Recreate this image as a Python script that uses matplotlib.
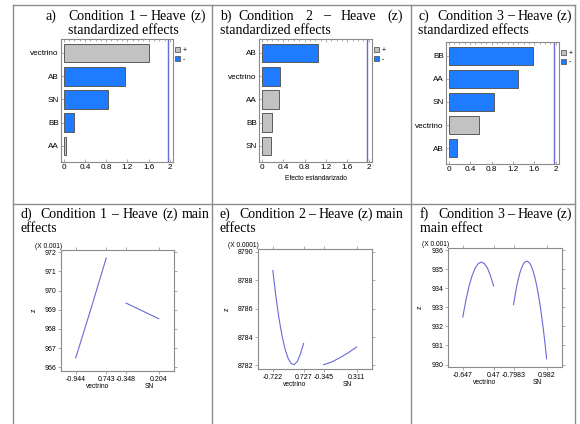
import numpy as np
import matplotlib
matplotlib.use("Agg")
import matplotlib.pyplot as plt
from matplotlib.patches import Patch
from matplotlib.lines import Line2D

# =========================================
# data
# =========================================
# pareto charts of standardized effects (bar length, sign of effect)
a_labels = ["vectrino", "AB", "SN", "BB", "AA"]
a_values = [1.61, 1.16, 0.83, 0.20, 0.04]
a_signs = ["+", "-", "-", "-", "+"]

b_labels = ["AB", "vectrino", "AA", "BB", "SN"]
b_values = [1.06, 0.34, 0.33, 0.20, 0.17]
b_signs = ["-", "-", "+", "+", "+"]

c_labels = ["BB", "AA", "SN", "vectrino", "AB"]
c_values = [1.57, 1.29, 0.84, 0.56, 0.16]
c_signs = ["-", "-", "-", "+", "-"]

critical = 1.96
bar_ticks = [0, 0.4, 0.8, 1.2, 1.6, 2]

# main effects plots: factor levels (low, high) and curve points
factors = ["vectrino", "SN"]

d_levels = [(-0.944, 0.743), (-0.348, 0.204)]
d_vec_x = [-0.944, -0.1, 0.743]
d_vec_z = [966.48, 969.05, 971.70]
d_sn_x = [-0.348, 0.204]
d_sn_z = [969.35, 968.53]
d_yticks = [966, 967, 968, 969, 970, 971, 972]

e_levels = [(-0.722, 0.727), (-0.345, 0.311)]
e_vec_x = [-0.722, -0.577, -0.432, -0.287, -0.142, 0.003, 0.147, 0.292, 0.437, 0.582, 0.727]
e_vec_z = [8788.69, 8786.86, 8785.32, 8784.08, 8783.13, 8782.48, 8782.12, 8782.06,
           8782.30, 8782.83, 8783.55]
e_sn_x = [-0.345, -0.181, -0.017, 0.147, 0.311]
e_sn_z = [8782.05, 8782.25, 8782.55, 8782.90, 8783.30]
e_yticks = [8782, 8784, 8786, 8788, 8790]

f_levels = [(-0.647, 0.47), (-0.7983, 0.982)]
f_vec_x = [-0.647, -0.535, -0.424, -0.312, -0.200, -0.089, 0.023, 0.135, 0.247, 0.358, 0.47]
f_vec_z = [932.50, 933.38, 934.10, 934.66, 935.06, 935.30, 935.38, 935.30, 935.06,
           934.66, 934.13]
f_sn_x = [-0.798, -0.709, -0.620, -0.531, -0.442, -0.353, -0.264, -0.175, -0.086, 0.003,
          0.092, 0.181, 0.270, 0.359, 0.448, 0.537, 0.626, 0.715, 0.804, 0.893, 0.982]
f_sn_z = [933.15, 933.68, 934.15, 934.54, 934.86, 935.11, 935.29, 935.39, 935.43, 935.39,
          935.29, 935.11, 934.86, 934.54, 934.15, 933.68, 933.15, 932.54, 931.87, 931.12,
          930.30]
f_yticks = [930, 931, 932, 933, 934, 935, 936]

# captions
cap_a = ("a)", ["Condition", "1", "–", "Heave", "(z)"], "standardized effects")
cap_b = ("b)", ["Condition", "2", "–", "Heave", "(z)"], "standardized effects")
cap_c = ("c)", ["Condition", "3", "–", "Heave", "(z)"], "standardized effects")
cap_d = ("d)", ["Condition", "1", "–", "Heave", "(z)", "main"], "effects")
cap_e = ("e)", ["Condition", "2", "–", "Heave", "(z)", "main"], "effects")
cap_f = ("f)", ["Condition", "3", "–", "Heave", "(z)"], "main effect")

# =========================================
# styles
# =========================================
W, H = 580, 424
GRAY = "#c2c2c2"
BLUE = "#1f7bff"
EDGE = "#5a5a5a"
LINE = "#6a6ad4"
FRAME = "#8a8a8a"
SANS = "Liberation Sans"
SERIF = "Liberation Serif"
SLOTS = [(0.13, 0.40), (0.575, 0.865)]
NAME_X = [0.325, 0.78]

fig = plt.figure(figsize=(W / 100, H / 100), dpi=100)
renderer = fig.canvas.get_renderer()


def px_axes(l, t, r, b):
    return fig.add_axes([l / W, 1 - b / H, (r - l) / W, (b - t) / H])


def frame(ax):
    for s in ax.spines.values():
        s.set_color(FRAME)
        s.set_linewidth(0.8)


# table borders
for x in [13, 212, 411, 575]:
    fig.add_artist(Line2D([x / W, x / W], [0, 1 - 5 / H], color="#8c8c8c", lw=1))
for y in [5, 204]:
    fig.add_artist(Line2D([13 / W, 575 / W], [1 - y / H, 1 - y / H], color="#8c8c8c", lw=1))


def caption(cap, xl, xt, x_end, y1, size=10.0):
    label, words, second = cap
    fig.text(xl / W, 1 - y1 / H, label, fontsize=size, family=SERIF, va="baseline")
    texts = [fig.text(0, 0, w, fontsize=size, family=SERIF, va="baseline") for w in words]
    widths = [t.get_window_extent(renderer).width for t in texts]
    gap = (x_end - xt - sum(widths)) / (len(words) - 1)
    x = xt
    for t, w in zip(texts, widths):
        t.set_position((x / W, 1 - y1 / H))
        x += w + gap
    x2 = xt if label == "a)" else xl
    fig.text(x2 / W, 1 - (y1 + 14) / H, second, fontsize=size, family=SERIF, va="baseline")


caption(cap_a, 45, 68.5, 206, 19.5)
caption(cap_b, 220, 238.5, 403, 19.5)
caption(cap_c, 418.5, 437.5, 572, 19.5)
caption(cap_d, 20.5, 40, 210, 217.7)
caption(cap_e, 220, 239.5, 404, 217.7)
caption(cap_f, 419.5, 438.5, 572, 217.7)


# =========================================
# pareto charts
# =========================================
def pareto(ax, labels, values, signs, xlabel=None):
    y = np.arange(len(labels))
    colors = [GRAY if s == "+" else BLUE for s in signs]
    ax.barh(y, values, height=0.8, color=colors, edgecolor=EDGE, linewidth=0.7)
    ax.axvline(critical, color=LINE, lw=1)
    ax.set_xlim(-0.05, 2.06)
    ax.set_ylim(len(labels) - 0.31, -0.6)
    ax.set_yticks(y, labels)
    ax.set_xticks(bar_ticks, [f"{t:g}" for t in bar_ticks])
    ax.set_xticks(np.arange(0, 2.05, 0.1), minor=True)
    ax.tick_params(axis="both", labelsize=5.9, length=2, width=0.5, pad=1.5,
                   color=FRAME, top=True, right=False, direction="in")
    ax.tick_params(axis="x", which="minor", length=1.5, width=0.5, top=True,
                   bottom=False, direction="in", color=FRAME)
    for lab in ax.get_xticklabels() + ax.get_yticklabels():
        lab.set_family(SANS)
    frame(ax)
    handles = [Patch(facecolor=GRAY, edgecolor=EDGE, lw=0.6),
               Patch(facecolor=BLUE, edgecolor=EDGE, lw=0.6)]
    ax.legend(handles, ["+", "-"], loc="upper left", bbox_to_anchor=(1.02, 0.935),
              frameon=False, handlelength=0.75, handleheight=0.75, borderaxespad=0,
              borderpad=0, handletextpad=0.3, labelspacing=0.25,
              prop={"family": SANS, "size": 5})
    if xlabel:
        ax.set_xlabel(xlabel, fontsize=4.8, family=SANS, labelpad=3)


pareto(px_axes(61, 39, 173, 162), a_labels, a_values, a_signs)
pareto(px_axes(259, 39, 372, 162), b_labels, b_values, b_signs, "Efecto estandarizado")
pareto(px_axes(446, 42, 559, 164), c_labels, c_values, c_signs)


# =========================================
# main effects plots
# =========================================
def effects(ax, levels, curves, yticks, ylim, mult):
    tick_pos, tick_lab = [], []
    for (xs, zs), (s0, s1), (lo, hi) in zip(curves, SLOTS, levels):
        xa = s0 + (np.array(xs) - lo) / (hi - lo) * (s1 - s0)
        ax.plot(xa, zs, color=LINE, lw=0.8, solid_joinstyle="round")
        tick_pos += [s0, s1]
        tick_lab += [f"{lo:g}", f"{hi:g}"]
    ax.set_xlim(0, 1)
    ax.set_ylim(*ylim)
    ax.set_xticks(tick_pos, tick_lab)
    ax.set_yticks(yticks, [f"{t:g}" for t in yticks])
    ax.tick_params(axis="both", labelsize=5, length=2, width=0.5, pad=1.5,
                   color=FRAME, right=True, top=True, direction="out")
    for lab in ax.get_xticklabels() + ax.get_yticklabels():
        lab.set_family(SANS)
    frame(ax)
    ax.set_ylabel("z", fontsize=5, family=SANS, labelpad=5)
    ax.text(0.01, 1.0, mult, transform=ax.transAxes, ha="right", va="bottom",
            fontsize=4.8, family=SANS)
    for name, nx in zip(factors, NAME_X):
        ax.annotate(name, xy=(nx, 0), xycoords="axes fraction", xytext=(0, -15.5),
                    textcoords="offset pixels", ha="center", va="center",
                    fontsize=4.8, family=SANS)


effects(px_axes(61, 250, 174, 371), d_levels,
        [(d_vec_x, d_vec_z), (d_sn_x, d_sn_z)], d_yticks, (965.8, 972.12), "(X 0.001)")
effects(px_axes(258, 249, 372, 369), e_levels,
        [(e_vec_x, e_vec_z), (e_sn_x, e_sn_z)], e_yticks, (8781.75, 8790.21), "(X 0.0001)")
effects(px_axes(448, 248, 562, 367), f_levels,
        [(f_vec_x, f_vec_z), (f_sn_x, f_sn_z)], f_yticks, (929.87, 936.12), "(X 0.001)")

fig.savefig("out.png", dpi=100)
